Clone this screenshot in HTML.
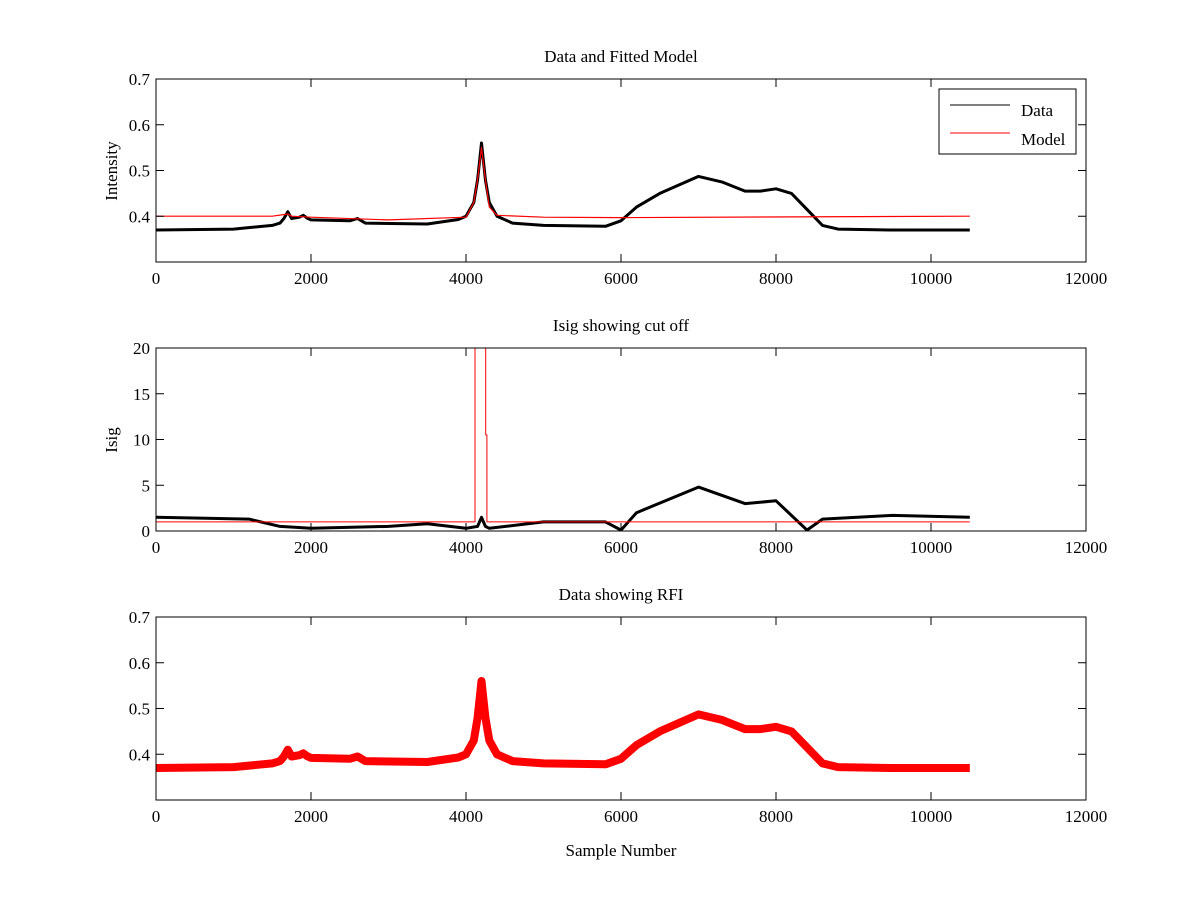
<!DOCTYPE html>
<html><head><meta charset="utf-8"><style>
body{margin:0;background:#fff}
svg text{font-family:"Liberation Serif",serif;font-size:17px;fill:#000}
</style></head><body>
<svg id="chart" width="1200" height="900"></svg>
<script>
const profileX=[0,1000,1500,1600,1650,1700,1750,1850,1900,1950,2000,2500,2600,2700,3500,3900,4000,4100,4150,4200,4250,4300,4400,4600,5000,5800,6000,6200,6500,7000,7300,7600,7800,8000,8200,8400,8600,8800,9500,10000,10500];
const intensity=[0.37,0.372,0.38,0.385,0.395,0.41,0.395,0.398,0.402,0.396,0.392,0.39,0.395,0.385,0.383,0.393,0.40,0.43,0.48,0.56,0.48,0.43,0.40,0.385,0.38,0.378,0.39,0.42,0.45,0.487,0.475,0.455,0.455,0.46,0.45,0.415,0.38,0.372,0.37,0.37,0.37];
const modelX=[0,1500,1700,1750,2000,3000,4000,4100,4150,4200,4250,4300,4400,5000,6000,10500];
const modelY=[0.4,0.4,0.405,0.4,0.398,0.392,0.398,0.43,0.48,0.55,0.48,0.42,0.402,0.398,0.397,0.4];
const isigX=[0,1200,1600,2000,3000,3500,4000,4150,4200,4250,4300,5000,5800,6000,6200,7000,7600,8000,8400,8600,9500,10500];
const isigY=[1.5,1.3,0.5,0.3,0.5,0.8,0.3,0.5,1.5,0.5,0.3,1,1,0.1,2,4.8,3,3.3,0.1,1.3,1.7,1.5];
const cutX=[0,4116,4116,4254,4254,4270,4270,10500];
const cutY=[1,1,25,25,10.5,10.5,1,1];
const xTicks=[0,2000,4000,6000,8000,10000,12000];
const intTicks=[0.4,0.5,0.6,0.7];
const isigTicks=[0,5,10,15,20];

const svg=document.getElementById('chart');
const NS='http://www.w3.org/2000/svg';
function mk(t,a,p){const e=document.createElementNS(NS,t);for(const k in a)e.setAttribute(k,a[k]);(p||svg).appendChild(e);return e;}
const X0=156,X1=1086;
const sx=v=>X0+v*(X1-X0)/12000;
function axes(top,ymin,ymax,yticks,title,ylab,name){
  const bot=top+183;
  const sy=v=>bot-(v-ymin)/(ymax-ymin)*183;
  const g=mk('g',{});
  
  const cp=mk('clipPath',{id:'c'+name},g);mk('rect',{x:X0,y:top,width:X1-X0,height:183},cp);
  const plot=mk('g',{'clip-path':'url(#c'+name+')'},g);
  mk('rect',{x:X0,y:top,width:X1-X0,height:183,fill:'none',stroke:'#000','stroke-width':1},g);
  xTicks.forEach(t=>{const x=sx(t);
    mk('line',{x1:x,x2:x,y1:bot,y2:bot-8,stroke:'#000'},g);mk('line',{x1:x,x2:x,y1:top,y2:top+8,stroke:'#000'},g);
    const tx=mk('text',{x:x,y:bot+22,'text-anchor':'middle'},g);tx.textContent=t;
    });
  yticks.forEach(t=>{const y=sy(t);
    mk('line',{x1:X0,x2:X0+8,y1:y,y2:y,stroke:'#000'},g);mk('line',{x1:X1,x2:X1-8,y1:y,y2:y,stroke:'#000'},g);
    const tx=mk('text',{x:X0-6,y:y+6,'text-anchor':'end'},g);tx.textContent=t;
    });
  const tt=mk('text',{x:621,y:top-17,'text-anchor':'middle'},g);tt.textContent=title;
  
  if(ylab){const yl=mk('text',{x:0,y:0,'text-anchor':'middle',transform:`translate(117,${top+92}) rotate(-90)`},g);yl.textContent=ylab;
    }
  return {plot,sy};
}
function line(p,xs,ys,sy,col,w,name){
  const d=xs.map((x,i)=>(i?'L':'M')+sx(x).toFixed(1)+','+sy(ys[i]).toFixed(1)).join('');
  const e=mk('path',{d,fill:'none',stroke:col,'stroke-width':w,'stroke-linejoin':'round'},p);
  return e;
}
let a=axes(79,0.3,0.7,intTicks,'Data and Fitted Model','Intensity','data-model-panel');
line(a.plot,profileX,intensity,a.sy,'#000',3,'data-line');
line(a.plot,modelX,modelY,a.sy,'#f00',1.2,'model-line');
const lg=mk('g',{});
mk('rect',{x:939,y:89,width:137,height:65,fill:'#fff',stroke:'#000'},lg);
mk('line',{x1:950,x2:1010,y1:105,y2:105,stroke:'#000'},lg);
mk('line',{x1:950,x2:1010,y1:133,y2:133,stroke:'#f00'},lg);
let t=mk('text',{x:1021,y:116},lg);t.textContent='Data';
t=mk('text',{x:1021,y:145},lg);t.textContent='Model';
a=axes(348,0,20,isigTicks,'Isig showing cut off','Isig','isig-panel');
line(a.plot,isigX,isigY,a.sy,'#000',3,'isig-line');
line(a.plot,cutX,cutY,a.sy,'#f00',1,'cutoff-line');
a=axes(617,0.3,0.7,intTicks,'Data showing RFI','','rfi-panel');
line(a.plot,profileX,intensity,a.sy,'#f00',8,'rfi-data-line');
t=mk('text',{x:621,y:856,'text-anchor':'middle'});t.textContent='Sample Number';

</script>
</body></html>
